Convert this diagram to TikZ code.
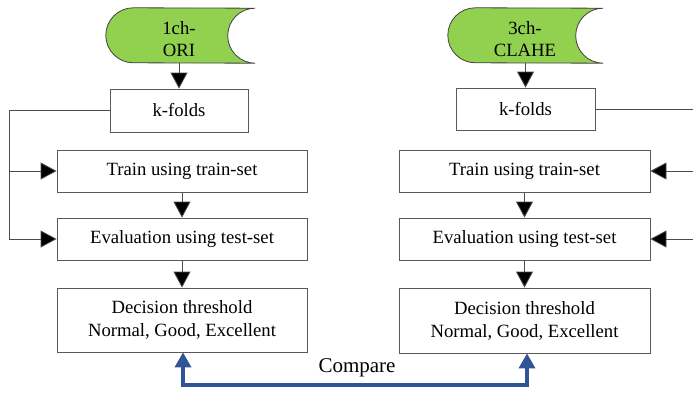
\documentclass[tikz,border=0pt]{standalone}
\usepackage{fontspec}
\setmainfont{Liberation Serif}
\usetikzlibrary{arrows.meta}

\definecolor{boxline}{HTML}{595959}
\definecolor{sourcegreen}{HTML}{92D050}
\definecolor{comparblue}{HTML}{2F5597}

\tikzset{
  box/.style={draw=boxline, line width=0.8pt, fill=white, inner sep=0pt,
    align=center, font=\fontsize{18.7}{23}\selectfont},
  source/.style={inner sep=0pt, align=center,
    font=\fontsize{18.7}{22}\selectfont},
  sourceshape/.style={draw=black!75, line width=0.8pt, fill=sourcegreen},
  flow/.style={draw=black!70, line width=0.8pt,
    -{Triangle[width=17pt,length=16pt,fill=black]}},
  link/.style={draw=black!70, line width=0.8pt},
  comparearrow/.style={draw=comparblue, line width=3.5pt,
    {Triangle[width=16pt,length=15pt]}-{Triangle[width=16pt,length=15pt]}},
}

% stored-data outline: round left end, concave right end
\newcommand{\storedoutline}[1]{%
  \path[sourceshape] ([xshift=27.5pt]#1.north west)
    arc[start angle=90, end angle=270, radius=27.5pt]
    -- (#1.south east)
    arc[start angle=270, end angle=90, radius=27.5pt]
    -- cycle;}

\begin{document}
\begin{tikzpicture}[x=1pt, y=1pt]
\useasboundingbox (0,0) rectangle (693,392);

% data sources
\node[source, minimum width=149pt, minimum height=55pt] (s1) at (180.5,356.5) {};
\node[source, minimum width=155pt, minimum height=55pt] (s2) at (525.5,356.5) {};
\storedoutline{s1}
\storedoutline{s2}
\node[source] (t1) at (179,353) {1ch-\\ORI};
\node[source] (t2) at (525,353) {3ch-\\CLAHE};

% left pipeline
\node[box, minimum width=138pt, minimum height=43pt] (kf1) at (179,281.5) {k-folds};
\node[box, minimum width=250pt, minimum height=42pt] (tr1) at (182,221) {Train using train-set};
\node[box, minimum width=250pt, minimum height=42pt] (ev1) at (182,153) {Evaluation using test-set};
\node[box, minimum width=250pt, minimum height=64pt] (de1) at (182,72) {Decision threshold\\Normal, Good, Excellent};

% right pipeline
\node[box, minimum width=139pt, minimum height=42pt] (kf2) at (525.5,283) {k-folds};
\node[box, minimum width=251pt, minimum height=42pt] (tr2) at (524.5,221) {Train using train-set};
\node[box, minimum width=251pt, minimum height=42pt] (ev2) at (524.5,153) {Evaluation using test-set};
\node[box, minimum width=251pt, minimum height=65pt] (de2) at (524.5,71.5) {Decision threshold\\Normal, Good, Excellent};

% vertical flow
\draw[flow] (s1.south -| kf1) -- (kf1.north);
\draw[flow] (s2.south -| kf2) -- (kf2.north);
\draw[flow] (tr1.south) -- (ev1.north);
\draw[flow] (ev1.south) -- (de1.north);
\draw[flow] (tr2.south) -- (ev2.north);
\draw[flow] (ev2.south) -- (de2.north);

% fold feedback, left
\coordinate (lp) at (9,0);
\draw[link] (kf1.west) -| (lp |- ev1.west);
\draw[flow] (lp |- ev1.west) -- (ev1.west);
\draw[flow] (lp |- tr1.west) -- (tr1.west);

% fold feedback, right
\coordinate (rp) at (693,0);
\draw[link] (kf2.east) -- (rp |- kf2.east);
\draw[flow] (rp |- tr2.east) -- (tr2.east);
\draw[flow] (rp |- ev2.east) -- (ev2.east);

% comparison
\coordinate (cb) at (355,7);
\draw[comparearrow] ([xshift=1pt]de1.south) |- (cb) -| ([xshift=2.5pt]de2.south);
\node[font=\fontsize{21}{25}\selectfont] (cmp) at (357,24) {Compare};
\end{tikzpicture}
\end{document}
